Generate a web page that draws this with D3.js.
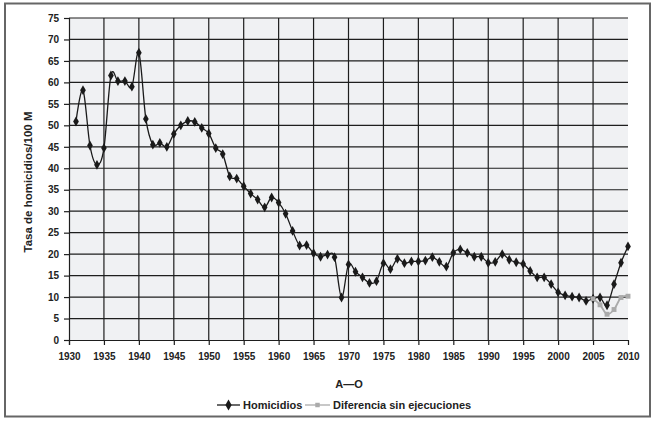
<!DOCTYPE html>
<html>
<head>
<meta charset="utf-8">
<script src="https://cdn.jsdelivr.net/npm/d3@7"></script>
<style>
  html, body { margin: 0; padding: 0; background: #fff; }
  svg text { font-family: "Liberation Sans", Arial, Helvetica, sans-serif; font-weight: bold; fill: #222; }
</style>
</head>
<body>
<svg id="chart" width="655" height="421"></svg>
<script>
// ---- data ----
const years = d3.range(1931, 2011);
const homicidios = [
  50.9, 58.2, 45.3, 40.8, 44.7, 61.6, 60.3, 60.3, 59.0, 66.9,
  51.5, 45.5, 45.9, 45.0, 48.0, 50.0, 51.0, 50.8, 49.4, 48.1,
  44.7, 43.3, 38.1, 37.6, 35.8, 34.1, 32.7, 30.9, 33.2, 32.0,
  29.4, 25.4, 22.0, 22.1, 20.2, 19.4, 19.9, 19.3, 9.9, 17.6,
  15.9, 14.6, 13.3, 13.7, 17.9, 16.5, 18.9, 17.9, 18.3, 18.3,
  18.5, 19.3, 18.2, 17.1, 20.3, 21.1, 20.3, 19.4, 19.4, 18.0,
  18.2, 20.0, 18.7, 18.1, 17.7, 16.1, 14.6, 14.6, 13.0, 11.1,
  10.4, 10.1, 9.9, 9.1, 9.6, 9.9, 8.1, 13.0, 18.0, 21.8
];
const difYears = [2005, 2006, 2007, 2008, 2009, 2010];
const diferencia = [9.6, 8.2, 6.0, 7.1, 9.9, 10.2];
const xTicks = d3.range(1930, 2011, 5);
const yTicks = d3.range(0, 76, 5);
const seriesNames = ["Homicidios", "Diferencia sin ejecuciones"];
const xTitle = "A\u2014O";
const yTitle = "Tasa de homicidios/100 M";

// ---- layout ----
const svg = d3.select("#chart");
const L = 69, R = 628, T = 18, B = 340;
const x = d3.scaleLinear().domain([1930, 2010]).range([L, R]);
const y = d3.scaleLinear().domain([0, 75]).range([B, T]);

// outer border
svg.append("rect").attr("x", 5).attr("y", 3.5).attr("width", 645).attr("height", 413)
  .attr("fill", "#fff").attr("stroke", "#666").attr("stroke-width", 2);

// plot background
svg.append("rect").attr("x", L).attr("y", T).attr("width", R - L).attr("height", B - T)
  .attr("fill", "#f0f1f3");

// horizontal gridlines
svg.append("g").selectAll("line").data(yTicks.filter(d => d > 0)).join("line")
  .attr("x1", L).attr("x2", R).attr("y1", d => y(d)).attr("y2", d => y(d))
  .attr("stroke", "#1e1e1e").attr("stroke-width", 1.2);
// vertical gridlines
svg.append("g").selectAll("line").data(xTicks.filter(d => d > 1930 && d < 2010)).join("line")
  .attr("x1", d => x(d)).attr("x2", d => x(d)).attr("y1", T).attr("y2", B)
  .attr("stroke", "#1e1e1e").attr("stroke-width", 1.2);

// y axis
const yAxis = d3.axisLeft(y).tickValues(yTicks).tickSize(5).tickPadding(5);
const gy = svg.append("g").attr("transform", `translate(${L},0)`).call(yAxis);
gy.select(".domain").attr("stroke", "#1e1e1e").attr("stroke-width", 1.2);
gy.selectAll(".tick line").attr("stroke", "#1e1e1e").attr("stroke-width", 1.2);
gy.selectAll("text").style("font-size", "10px").attr("fill", "#222");

// x axis
const xAxis = d3.axisBottom(x).tickValues(xTicks).tickSize(5).tickPadding(8).tickFormat(d3.format("d"));
const gx = svg.append("g").attr("transform", `translate(0,${B})`).call(xAxis);
gx.select(".domain").attr("stroke", "#1e1e1e").attr("stroke-width", 1.2);
gx.selectAll(".tick line").attr("stroke", "#1e1e1e").attr("stroke-width", 1.2)
  .attr("opacity", d => d === 2010 ? 0 : 1);
gx.selectAll("text").style("font-size", "10px").attr("fill", "#222");

// titles
svg.append("text").attr("x", 349).attr("y", 388).attr("text-anchor", "middle")
  .style("font-size", "11px").text(xTitle);
svg.append("text").attr("transform", "translate(32,182) rotate(-90)").attr("text-anchor", "middle")
  .style("font-size", "11.5px").text(yTitle);

// lines
const hData = years.map((yr, i) => ({ yr, v: homicidios[i] }));
const dData = difYears.map((yr, i) => ({ yr, v: diferencia[i] }));
const line = d3.line().x(d => x(d.yr)).y(d => y(d.v)).curve(d3.curveCatmullRom.alpha(0));

svg.append("path").datum(hData).attr("d", line).attr("fill", "none")
  .attr("stroke", "#1a1a1a").attr("stroke-width", 1.3);
svg.append("g").selectAll("path").data(hData).join("path")
  .attr("transform", d => `translate(${x(d.yr)},${y(d.v)})`)
  .attr("d", d3.symbol(d3.symbolDiamond, 28)).attr("fill", "#1a1a1a");

svg.append("path").datum(dData).attr("d", line).attr("fill", "none")
  .attr("stroke", "#aaaaaa").attr("stroke-width", 1.8);
svg.append("g").selectAll("path").data(dData).join("path")
  .attr("transform", d => `translate(${x(d.yr)},${y(d.v)})`)
  .attr("d", d3.symbol(d3.symbolSquare, 24)).attr("fill", "#aaaaaa");

// legend
const lg = svg.append("g").attr("transform", "translate(0,405)");
lg.append("line").attr("x1", 217).attr("x2", 240).attr("y1", 0).attr("y2", 0)
  .attr("stroke", "#1a1a1a").attr("stroke-width", 1.3);
lg.append("path").attr("transform", "translate(228.5,0)")
  .attr("d", d3.symbol(d3.symbolDiamond, 34)).attr("fill", "#1a1a1a");
lg.append("text").attr("x", 243).attr("y", 4).style("font-size", "11px").text(seriesNames[0]);
lg.append("line").attr("x1", 305).attr("x2", 330).attr("y1", 0).attr("y2", 0)
  .attr("stroke", "#aaaaaa").attr("stroke-width", 1.3);
lg.append("path").attr("transform", "translate(317.5,0)")
  .attr("d", d3.symbol(d3.symbolSquare, 20)).attr("fill", "#aaaaaa");
lg.append("text").attr("x", 333).attr("y", 4).style("font-size", "11px").text(seriesNames[1]);
</script>
</body>
</html>
